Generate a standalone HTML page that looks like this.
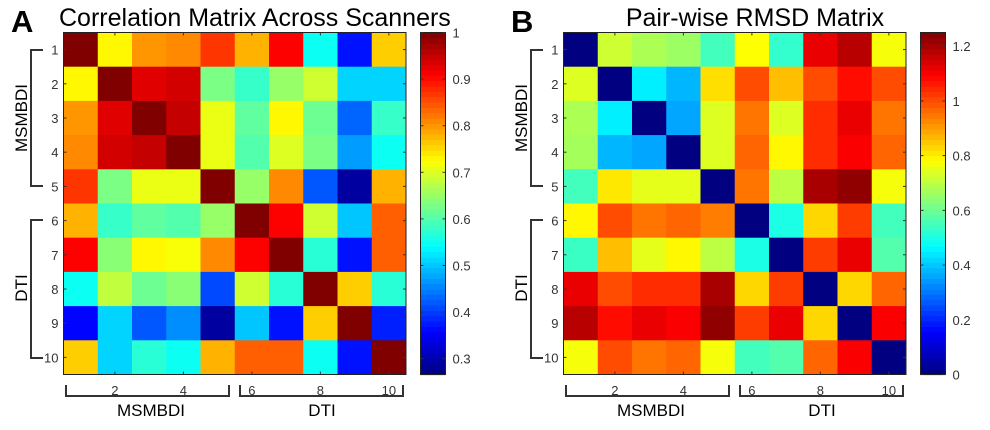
<!DOCTYPE html>
<html><head><meta charset="utf-8">
<style>
html,body{margin:0;padding:0;background:#fff;width:990px;height:430px;overflow:hidden}
svg{display:block;font-family:"Liberation Sans",Arial,sans-serif}
</style></head>
<body>
<svg id="chart" width="990" height="430" viewBox="0 0 990 430" xmlns="http://www.w3.org/2000/svg"></svg>
<script>
const labelsIdx = [1,2,3,4,5,6,7,8,9,10];
const corrValues = [
[1.00,0.73,0.80,0.81,0.87,0.78,0.91,0.55,0.37,0.76],
[0.73,1.00,0.93,0.94,0.63,0.58,0.65,0.69,0.51,0.51],
[0.80,0.93,1.00,0.95,0.71,0.61,0.73,0.62,0.43,0.58],
[0.81,0.94,0.95,1.00,0.71,0.60,0.70,0.63,0.47,0.55],
[0.87,0.63,0.71,0.71,1.00,0.65,0.81,0.42,0.29,0.78],
[0.78,0.58,0.61,0.60,0.65,1.00,0.91,0.69,0.50,0.84],
[0.91,0.64,0.73,0.72,0.81,0.91,1.00,0.57,0.37,0.84],
[0.55,0.68,0.62,0.64,0.41,0.69,0.57,1.00,0.76,0.57],
[0.36,0.51,0.42,0.46,0.29,0.50,0.37,0.76,1.00,0.38],
[0.76,0.51,0.57,0.55,0.78,0.84,0.84,0.55,0.37,1.00]];
const rmsdValues = [
[0.00,0.72,0.68,0.66,0.55,0.78,0.53,1.12,1.18,0.77],
[0.74,0.00,0.45,0.38,0.82,1.00,0.86,1.00,1.08,1.00],
[0.68,0.45,0.00,0.36,0.74,0.95,0.74,1.04,1.12,0.95],
[0.67,0.38,0.36,0.00,0.74,0.97,0.79,1.04,1.10,0.97],
[0.55,0.81,0.75,0.75,0.00,0.95,0.70,1.20,1.23,0.77],
[0.79,1.00,0.95,0.97,0.94,0.00,0.50,0.83,1.02,0.55],
[0.54,0.86,0.75,0.79,0.70,0.50,0.00,1.02,1.12,0.57],
[1.12,1.00,1.04,1.04,1.20,0.83,1.02,0.00,0.83,0.97],
[1.18,1.08,1.12,1.10,1.23,1.02,1.12,0.83,0.00,1.10],
[0.77,1.00,0.95,0.97,0.77,0.55,0.57,0.97,1.10,0.00]];
const corrTicks = [0.3,0.4,0.5,0.6,0.7,0.8,0.9,1];
const corrTickLabels = ["0.3","0.4","0.5","0.6","0.7","0.8","0.9","1"];
const rmsdTicks = [0,0.2,0.4,0.6,0.8,1,1.2];
const rmsdTickLabels = ["0","0.2","0.4","0.6","0.8","1","1.2"];
const xTicks = [2,4,6,8,10];

const NS="http://www.w3.org/2000/svg";
const svg=document.getElementById('chart');
function mk(tag,attrs,parent){const e=document.createElementNS(NS,tag);for(const k in attrs)e.setAttribute(k,attrs[k]);(parent||svg).appendChild(e);return e;}
function jet(t){t=Math.max(0,Math.min(1,t));
 const f=x=>Math.round(255*Math.max(0,Math.min(1,x)));
 const r=f(Math.min(4*t-1.5,-4*t+4.5)),g=f(Math.min(4*t-0.5,-4*t+3.5)),b=f(Math.min(4*t+0.5,-4*t+2.5));
 return `rgb(${r},${g},${b})`;}

function panel(ox,letter,title,titleX,titleAnchor,vals,vmin,vmax,ticks,tickLabels,key){
 const g=mk('g',{});
 
 
 const x0=ox+63.5,y0=32.5,W=342.5,H=342,cw=W/10,ch=H/10;
 const L=mk('text',{x:ox+11,y:32,'font-size':31,'font-weight':'bold',fill:'#000'},g);L.textContent=letter;
 
 
 const T=mk('text',{x:titleX,y:26,'font-size':25,fill:'#000','text-anchor':titleAnchor},g);T.textContent=title;
 
 
 const xs=i=>x0+i*cw, ys=i=>y0+i*ch;
 const cells=mk('g',{},g);
 
 
 for(let r=0;r<vals.length;r++)for(let c=0;c<vals[r].length;c++){
  const rc=mk('rect',{x:xs(c),y:ys(r),width:cw+0.5,height:ch+0.5,fill:jet((vals[r][c]-vmin)/(vmax-vmin))},cells);
  
  
 }
 mk('rect',{x:x0,y:y0,width:W,height:H,fill:'none',stroke:'#222','stroke-width':1},g);
 labelsIdx.forEach((n,i)=>{const y=ys(i)+ch/2;
  mk('line',{x1:x0,x2:x0+3,y1:y,y2:y,stroke:'#333'},g);
  mk('line',{x1:x0+W-3,x2:x0+W,y1:y,y2:y,stroke:'#333'},g);
  const t=mk('text',{x:x0-5,y:y+5,'font-size':13,fill:'#333','text-anchor':'end'},g);t.textContent=n;
  
  });
 xTicks.forEach(n=>{const x=xs(n-1)+cw/2;
  mk('line',{x1:x,x2:x,y1:y0+H-3,y2:y0+H,stroke:'#333'},g);
  mk('line',{x1:x,x2:x,y1:y0,y2:y0+3,stroke:'#333'},g);
  const t=mk('text',{x:x,y:395,'font-size':13,fill:'#333','text-anchor':'middle'},g);t.textContent=n;
  
  });
 const bs={stroke:'#333','stroke-width':2,fill:'none'};
 mk('path',Object.assign({d:`M${ox+43},50 H${ox+31} V186 H${ox+43}`},bs),g);
 mk('path',Object.assign({d:`M${ox+43},220 H${ox+31} V358 H${ox+43}`},bs),g);
 mk('path',Object.assign({d:`M${ox+66},385 V396 H${ox+229} V385`},bs),g);
 mk('path',Object.assign({d:`M${ox+240},385 V396 H${ox+403} V385`},bs),g);
 const lab=(txt,x,y,rot,name)=>{const t=mk('text',{x:x,y:y,'font-size':17,fill:'#000','text-anchor':'middle',transform:rot?`rotate(-90 ${x} ${y})`:''},g);t.textContent=txt;
  
  };
 lab('MSMBDI',ox+27,118,true,key+'-y-group-msmbdi');
 lab('DTI',ox+27,288,true,key+'-y-group-dti');
 lab('MSMBDI',ox+151,416,false,key+'-x-group-msmbdi');
 lab('DTI',ox+322,416,false,key+'-x-group-dti');
 const cx=ox+420.5,cy=32.5,cwid=25,chh=342;
 const cb=mk('g',{},g);
 
 
 const n=64;
 for(let i=0;i<n;i++){mk('rect',{x:cx,y:cy+chh-(i+1)*chh/n,width:cwid,height:chh/n+0.6,fill:jet((i+0.5)/n)},cb);}
 mk('rect',{x:cx,y:cy,width:cwid,height:chh,fill:'none',stroke:'#222'},cb);
 const cyS=v=>cy+chh-(v-vmin)/(vmax-vmin)*chh;
 ticks.forEach((v,i)=>{const y=cyS(v);
  mk('line',{x1:cx+cwid-3,x2:cx+cwid,y1:y,y2:y,stroke:'#333'},cb);
  mk('line',{x1:cx,x2:cx+3,y1:y,y2:y,stroke:'#333'},cb);
  const t=mk('text',{x:cx+cwid+7,y:y+5,'font-size':13,fill:'#333'},cb);t.textContent=tickLabels[i];
  
  });
}
panel(0,'A','Correlation Matrix Across Scanners',59,'start',corrValues,0.266,1.0,corrTicks,corrTickLabels,'correlation');
panel(500,'B','Pair-wise RMSD Matrix',755,'middle',rmsdValues,0,1.25,rmsdTicks,rmsdTickLabels,'rmsd');
</script>
</body></html>
